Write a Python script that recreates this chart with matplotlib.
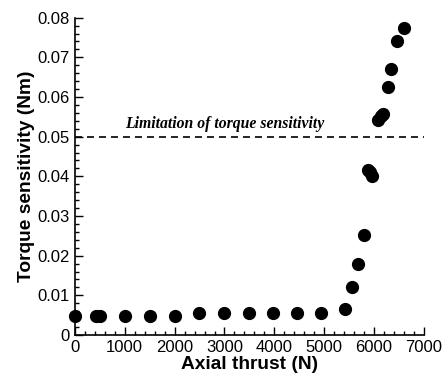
import numpy as np
import matplotlib.pyplot as plt
from matplotlib.ticker import AutoMinorLocator

plt.rcParams['font.family'] = ['Liberation Sans', 'DejaVu Sans']

thrust = np.array([0, 420, 510, 1010, 1510, 2010, 2480, 2990, 3490, 3970,
                   4450, 4930, 5420, 5550, 5685, 5805, 5870, 5920, 5960,
                   6080, 6130, 6170, 6270, 6330, 6450, 6590])
sensitivity = np.array([0.0049, 0.0049, 0.0049, 0.0048, 0.0048, 0.0048,
                        0.0056, 0.0056, 0.0056, 0.0056, 0.0056, 0.0056,
                        0.0066, 0.0122, 0.0180, 0.0252, 0.0415, 0.0410,
                        0.0401, 0.0543, 0.0553, 0.0558, 0.0626, 0.0671,
                        0.0740, 0.0773])
limit = 0.05

fig = plt.figure(figsize=(4.43, 3.76), dpi=100)
ax = fig.add_axes([0.169, 0.109, 0.788, 0.844])

ax.plot(thrust, sensitivity, 'o', color='black', markersize=8.5, clip_on=False, zorder=3)
ax.axhline(limit, color='black', linestyle=(0, (4.2, 3)), linewidth=1.2)
ax.text(1000, 0.0513, 'Limitation of torque sensitivity', family='Liberation Serif',
        style='italic', weight='bold', fontsize=11.3, va='bottom')

ax.set_xlim(0, 7000)
ax.set_ylim(0, 0.08)
ax.set_xticks(np.arange(0, 7001, 1000))
ax.set_yticks(np.arange(0, 0.0801, 0.01))
ax.set_yticklabels(['0'] + ['%.2f' % v for v in np.arange(0.01, 0.0801, 0.01)])
ax.xaxis.set_minor_locator(AutoMinorLocator(5))
ax.yaxis.set_minor_locator(AutoMinorLocator(5))
ax.tick_params(which='both', direction='in', labelsize=12, width=1)
ax.tick_params(which='major', length=6)
ax.tick_params(which='minor', length=3)
ax.spines['top'].set_visible(False)
ax.spines['right'].set_visible(False)
ax.spines['left'].set_linewidth(1.2)
ax.spines['bottom'].set_linewidth(1.2)

ax.set_xlabel('Axial thrust (N)', fontsize=13.8, weight='bold', labelpad=1)
ax.set_ylabel('Torque sensitivity (Nm)', fontsize=13.8, weight='bold', labelpad=2)

fig.savefig('out.png', dpi=100)
